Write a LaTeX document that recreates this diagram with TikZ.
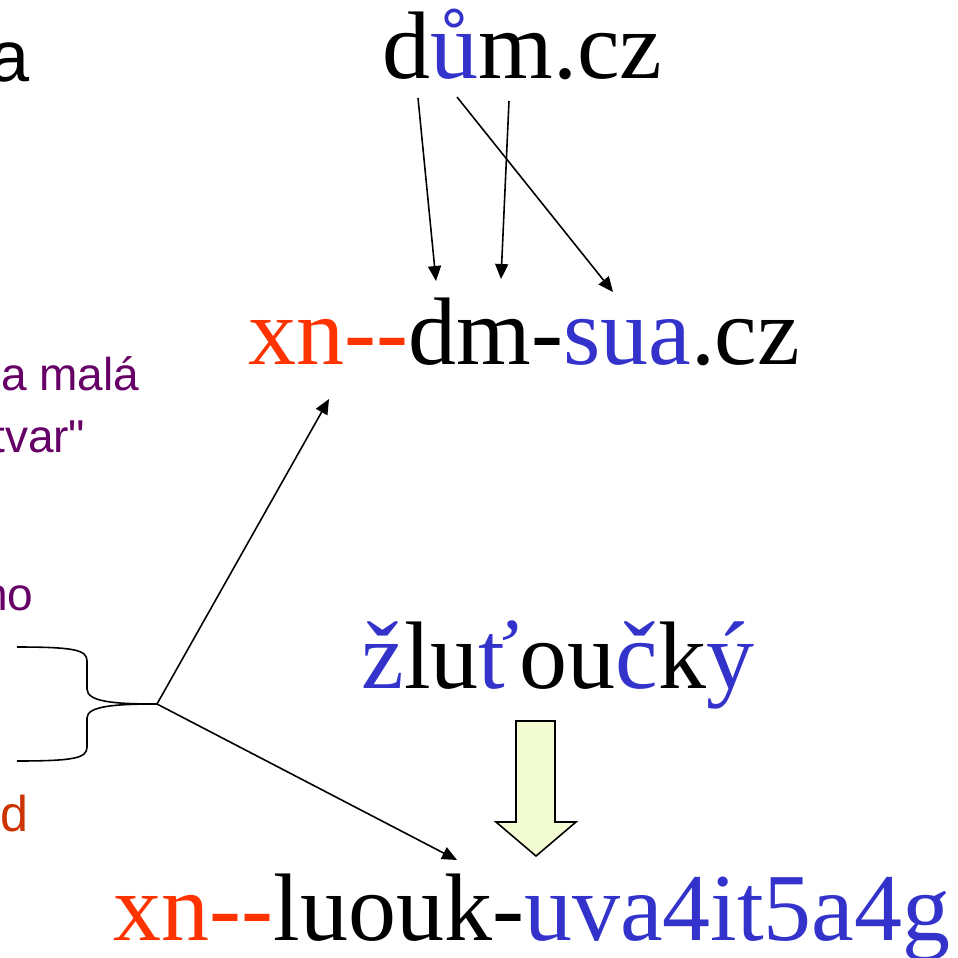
\documentclass[tikz,border=0pt]{standalone}
\usepackage{fontspec}
\setmainfont{Liberation Serif}
\newfontfamily\notefont{Liberation Sans}
\usetikzlibrary{arrows.meta}

\definecolor{xnred}{HTML}{FF3300}
\definecolor{uniblue}{HTML}{3333CC}
\definecolor{notepurple}{HTML}{660066}
\definecolor{noteorange}{HTML}{CC3300}
\definecolor{blockfill}{HTML}{F4FCD4}

\begin{document}
\begin{tikzpicture}[
	big/.style={font=\fontsize{27.3}{32}\selectfont, inner sep=0pt, anchor=base west},
	note/.style={font=\notefont\fontsize{13.1}{16}\selectfont, inner sep=0pt, anchor=base east},
	link/.style={-{Triangle[length=1.5mm,width=1.3mm]}, line width=0.45pt}
]

	\useasboundingbox (0,0) rectangle (9.58,9.57);

	% text cut off at the left edge
	\node[note, font=\notefont\fontsize{20.5}{24}\selectfont] (title) at (0.30,8.76) {a};
	\node[note, text=notepurple] (malaA) at (1.40,5.67) {a malá};
	\node[note, text=notepurple] (malaB) at (0.86,5.05) {tvar"};
	\node[note, text=notepurple] (nota) at (0.34,3.47) {no};
	\node[note, text=noteorange, font=\notefont\fontsize{14.3}{17}\selectfont] (notd) at (0.29,1.26) {d};

	% domain names
	\node[big] (dum) at (3.82,8.79) {d\textcolor{uniblue}{ů}m.cz};
	\node[big] (dmsua) at (2.48,5.93) {\textcolor{xnred}{xn-\kern0pt-}dm-\textcolor{uniblue}{sua}.cz};
	\node[big] (zlut) at (3.61,2.69) {\textcolor{uniblue}{ž}lu\textcolor{uniblue}{ť}ou\textcolor{uniblue}{č}k\textcolor{uniblue}{ý}};
	\node[big] (luouk) at (1.13,0.17) {\textcolor{xnred}{xn-\kern0pt-}luouk-\textcolor{uniblue}{uva4it5a4g}};

	% letters of dům.cz and where they go
	\coordinate (dFrom) at (4.18,8.59);
	\coordinate (dTo) at (4.36,6.76);
	\coordinate (mFrom) at (5.09,8.56);
	\coordinate (mTo) at (5.01,6.78);
	\coordinate (uFrom) at (4.57,8.60);
	\coordinate (uTo) at (6.13,6.65);

	\draw[link] (dFrom) -- (dTo);
	\draw[link] (mFrom) -- (mTo);
	\draw[link] (uFrom) -- (uTo);

	% brace
	\coordinate (tip) at (1.57,2.53);
	\draw[line width=0.45pt] (0.17,3.10) .. controls (0.75,3.10) and (0.87,3.07) .. (0.87,2.96)
		-- (0.87,2.68) .. controls (0.87,2.55) and (1.15,2.53) .. (tip)
		.. controls (1.15,2.53) and (0.87,2.51) .. (0.87,2.39)
		-- (0.87,2.10) .. controls (0.87,1.99) and (0.75,1.96) .. (0.17,1.96);

	\coordinate (upTo) at (3.29,5.58);
	\coordinate (downTo) at (4.57,0.97);
	\draw[link] (tip) -- (upTo);
	\draw[link] (tip) -- (downTo);

	% block arrow
	\filldraw[fill=blockfill, line width=0.45pt] (5.16,2.36) -- (5.55,2.36) -- (5.55,1.35) -- (5.76,1.35)
		-- (5.36,1.01) -- (4.96,1.35) -- (5.16,1.35) -- cycle;

\end{tikzpicture}
\end{document}
